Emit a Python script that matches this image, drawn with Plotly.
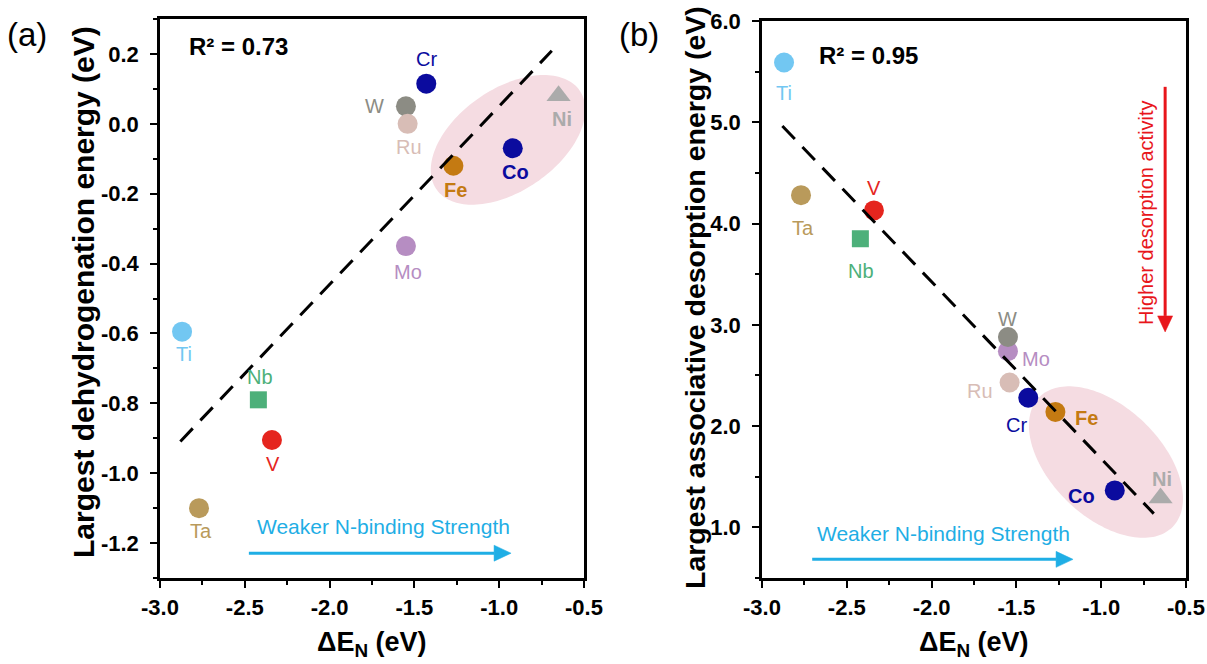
import numpy as np
import plotly.graph_objects as go

# ---------------- data ----------------
elements = ["Ti", "Ta", "Nb", "V", "Mo", "W", "Ru", "Cr", "Fe", "Co", "Ni"]
dE_N = [-2.87, -2.77, -2.42, -2.34, -1.55, -1.55, -1.54, -1.43, -1.27, -0.92, -0.65]
dehydrogenation = [-0.595, -1.10, -0.79, -0.905, -0.35, 0.05, 0.0, 0.115, -0.12, -0.07, 0.08]
desorption = [5.59, 4.28, 3.85, 4.13, 2.74, 2.88, 2.43, 2.28, 2.14, 1.365, 1.29]
r2_text = ["0.73", "0.95"]

x_ticks = [-3.0, -2.5, -2.0, -1.5, -1.0, -0.5]
ya_ticks = [0.2, 0.0, -0.2, -0.4, -0.6, -0.8, -1.0, -1.2]
yb_ticks = [6.0, 5.0, 4.0, 3.0, 2.0, 1.0]

x_title = "ΔE<sub>N</sub> (eV)"
ya_title = "Largest dehydrogenation energy (eV)"
yb_title = "Largest associative desorption energy (eV)"

# ---------------- styles ----------------
colors = {"Ti": "#72C7F2", "Ta": "#B99A5B", "Nb": "#4DB07A", "V": "#E5251E",
          "W": "#8C8C84", "Mo": "#B68DC2", "Ru": "#D8BDB6", "Cr": "#0B0B9E",
          "Fe": "#C47A12", "Co": "#0B0B9E", "Ni": "#ABABAB"}
symbols = {"Nb": "square", "Ni": "triangle-up"}
sizes = {"Nb": 17, "Ni": 21}
bold_labels = {"Fe", "Co", "Ni"}
# label offsets in pixels (dx, dy up)
offs_a = {"Ti": (2, -22), "Ta": (2, -23), "Nb": (2, 23), "V": (1, -24), "W": (-31, 0),
          "Mo": (2, -26), "Ru": (1, -23), "Cr": (0, 25), "Fe": (2, -24), "Co": (3, -24),
          "Ni": (3, -23)}
offs_b = {"Ti": (0, -30), "Ta": (2, -33), "Nb": (1, -32), "V": (0, 22), "W": (0, 18),
          "Mo": (28, -8), "Ru": (-30, -8), "Cr": (-12, -27), "Fe": (31, -6), "Co": (-33, -6),
          "Ni": (1, 19)}

FONT = "Liberation Sans, Arial, sans-serif"
W, H = 1207, 664
PA = dict(x0=160, x1=584, y0=19, y1=578)   # panel (a) plot area in px
PB = dict(x0=762, x1=1186, y0=21, y1=578)  # panel (b) plot area in px
xr = [-3.0, -0.5]
yr_a = [-1.3, 0.3]
yr_b = [0.5, 6.0]
fit_span = [-2.88, -0.69]
CYAN = "#1FAEE5"
RED = "#E8161B"
PINK = "#F5DCE2"


def scales(P, yr):
    sx = (P["x1"] - P["x0"]) / (xr[1] - xr[0])
    sy = (P["y1"] - P["y0"]) / (yr[1] - yr[0])
    return sx, sy


fig = go.Figure()


def ellipse(cx, cy, a_px, b_px, ang_deg, P, yr, xa, ya):
    sx, sy = scales(P, yr)
    th = np.deg2rad(ang_deg)
    t = np.linspace(0, 2 * np.pi, 160)
    dx = a_px * np.cos(th) * np.cos(t) - b_px * np.sin(th) * np.sin(t)
    dy = a_px * np.sin(th) * np.cos(t) + b_px * np.cos(th) * np.sin(t)
    xs = cx + dx / sx
    ys = cy + dy / sy
    p = "M " + " L ".join(f"{u:.5f},{v:.5f}" for u, v in zip(xs, ys)) + " Z"
    fig.add_shape(type="path", xref=xa, yref=ya, layer="below", path=p,
                  fillcolor=PINK, line=dict(width=0))


def arrow(x0, y0, x1, y1, P, yr, xa, ya, color, lw=3, head_len=17, head_w=16):
    sx, sy = scales(P, yr)
    dxp, dyp = (x1 - x0) * sx, (y1 - y0) * sy
    L = np.hypot(dxp, dyp)
    ux, uy = dxp / L, dyp / L
    bx, by = x1 - ux * head_len / sx, y1 - uy * head_len / sy
    px_, py_ = -uy, ux
    fig.add_trace(go.Scatter(x=[x0, bx], y=[y0, by], mode="lines", xaxis=xa, yaxis=ya,
                             line=dict(color=color, width=lw), showlegend=False,
                             hoverinfo="skip"))
    hx = [x1, bx + px_ * head_w / 2 / sx, bx - px_ * head_w / 2 / sx, x1]
    hy = [y1, by + py_ * head_w / 2 / sy, by - py_ * head_w / 2 / sy, y1]
    fig.add_trace(go.Scatter(x=hx, y=hy, mode="lines", fill="toself", fillcolor=color,
                             line=dict(color=color, width=0.5), xaxis=xa, yaxis=ya,
                             showlegend=False, hoverinfo="skip"))


def add_panel(yvals, xa, ya, offs):
    for i, el in enumerate(elements):
        fig.add_trace(go.Scatter(
            x=[dE_N[i]], y=[yvals[i]], mode="markers", xaxis=xa, yaxis=ya, name=el,
            marker=dict(color=colors[el], size=sizes.get(el, 20),
                        symbol=symbols.get(el, "circle"), line=dict(width=0)),
            showlegend=False, hoverinfo="skip"))
        dx, dy = offs[el]
        txt = f"<b>{el}</b>" if el in bold_labels else el
        fig.add_annotation(x=dE_N[i], y=yvals[i], xref=xa, yref=ya, text=txt,
                           showarrow=False, xshift=dx, yshift=dy,
                           font=dict(family=FONT, size=20, color=colors[el]))
    # linear fit through the data
    x = np.array(dE_N)
    y = np.array(yvals)
    k, b = np.polyfit(x, y, 1)
    xs = np.array(fit_span)
    fig.add_trace(go.Scatter(x=xs, y=k * xs + b, mode="lines", xaxis=xa, yaxis=ya,
                             line=dict(color="black", width=3, dash="18px,11px"),
                             showlegend=False, hoverinfo="skip"))


# ellipses (drawn below)
ellipse(-0.948, -0.046, 87, 51, 34.6, PA, yr_a, "x", "y")
ellipse(-0.972, 1.645, 93, 55, -44, PB, yr_b, "x2", "y2")

add_panel(dehydrogenation, "x", "y", offs_a)
add_panel(desorption, "x2", "y2", offs_b)

# R^2 texts
fig.add_annotation(x=-2.84, y=0.22, xref="x", yref="y", xanchor="left", showarrow=False,
                   text=f"<b>R² = {r2_text[0]}</b>",
                   font=dict(family=FONT, size=24, color="black"))
fig.add_annotation(x=-2.676, y=5.66, xref="x2", yref="y2", xanchor="left", showarrow=False,
                   text=f"<b>R² = {r2_text[1]}</b>",
                   font=dict(family=FONT, size=24, color="black"))

# weaker N-binding arrows
arrow(-2.476, -1.229, -0.93, -1.229, PA, yr_a, "x", "y", CYAN)
fig.add_annotation(x=-1.685, y=-1.154, xref="x", yref="y", showarrow=False,
                   text="Weaker N-binding Strength",
                   font=dict(family=FONT, size=21, color=CYAN))
arrow(-2.704, 0.684, -1.166, 0.684, PB, yr_b, "x2", "y2", CYAN)
fig.add_annotation(x=-1.932, y=0.944, xref="x2", yref="y2", showarrow=False,
                   text="Weaker N-binding Strength",
                   font=dict(family=FONT, size=21, color=CYAN))
# higher desorption activity arrow
arrow(-0.623, 5.35, -0.623, 2.93, PB, yr_b, "x2", "y2", RED, lw=3, head_len=16, head_w=15)
fig.add_annotation(x=-0.736, y=4.114, xref="x2", yref="y2", showarrow=False,
                   text="Higher desorption activity", textangle=-90,
                   font=dict(family=FONT, size=20, color=RED))

# panel labels: anchored at their top-left corner
fig.add_annotation(x=6 / W, y=1 - 15 / H, xref="paper", yref="paper", showarrow=False,
                   xanchor="left", yanchor="top", borderpad=0,
                   text="(a)", font=dict(family=FONT, size=33, color="black"))
fig.add_annotation(x=618 / W, y=1 - 15 / H, xref="paper", yref="paper", showarrow=False,
                   xanchor="left", yanchor="top", borderpad=0,
                   text="(b)", font=dict(family=FONT, size=33, color="black"))

# axis titles (placed explicitly, centred)
xtitlefont = dict(family=FONT, size=27, color="black", weight="bold")
for P in (PA, PB):
    fig.add_annotation(x=(P["x0"] + P["x1"]) / 2 / W, y=1 - 644 / H, xref="paper",
                       yref="paper", showarrow=False, xanchor="center", yanchor="middle",
                       borderpad=0, text=x_title, font=xtitlefont)
fig.add_annotation(x=84 / W, y=1 - 292 / H, xref="paper", yref="paper", showarrow=False,
                   xanchor="center", yanchor="middle", borderpad=0,
                   text=ya_title, textangle=-90,
                   font=dict(family=FONT, size=30, color="black", weight="bold"))
fig.add_annotation(x=695 / W, y=1 - 298 / H, xref="paper", yref="paper", showarrow=False,
                   xanchor="center", yanchor="middle", borderpad=0,
                   text=yb_title, textangle=-90,
                   font=dict(family=FONT, size=28.5, color="black", weight="bold"))

tickfont = dict(family=FONT, size=22, color="black", weight="bold")
common_x = dict(range=xr, tickvals=x_ticks, ticktext=[f"{v:.1f}" for v in x_ticks],
                ticks="outside", ticklen=7, tickwidth=2, tickcolor="black",
                minor=dict(ticks="outside", ticklen=4, tickwidth=2, tickcolor="black",
                           dtick=0.25, tick0=-3.0),
                showline=True, linewidth=2.5, linecolor="black", mirror=True,
                showgrid=False, zeroline=False, tickfont=tickfont, automargin=False,
                ticklabelstandoff=1)
common_y = dict(ticks="outside", ticklen=7, tickwidth=2, tickcolor="black",
                showline=True, linewidth=2.5, linecolor="black", mirror=True,
                showgrid=False, zeroline=False, tickfont=tickfont, automargin=False,
                ticklabelstandoff=7)

fig.update_layout(
    width=W, height=H, margin=dict(l=0, r=0, t=0, b=0, autoexpand=False),
    paper_bgcolor="white", plot_bgcolor="white", showlegend=False,
    xaxis=dict(domain=[PA["x0"] / W, PA["x1"] / W], anchor="y", **common_x),
    xaxis2=dict(domain=[PB["x0"] / W, PB["x1"] / W], anchor="y2", **common_x),
    yaxis=dict(domain=[1 - PA["y1"] / H, 1 - PA["y0"] / H], anchor="x", range=yr_a,
               tickvals=ya_ticks, ticktext=[f"{v:.1f}" for v in ya_ticks],
               minor=dict(ticks="outside", ticklen=4, tickwidth=2, tickcolor="black",
                          dtick=0.1, tick0=0.0),
               **common_y),
    yaxis2=dict(domain=[1 - PB["y1"] / H, 1 - PB["y0"] / H], anchor="x2", range=yr_b,
                tickvals=yb_ticks, ticktext=[f"{v:.1f}" for v in yb_ticks],
                minor=dict(ticks="outside", ticklen=4, tickwidth=2, tickcolor="black",
                           dtick=0.5, tick0=0.0),
                **common_y),
)

fig.write_html("out.html")
